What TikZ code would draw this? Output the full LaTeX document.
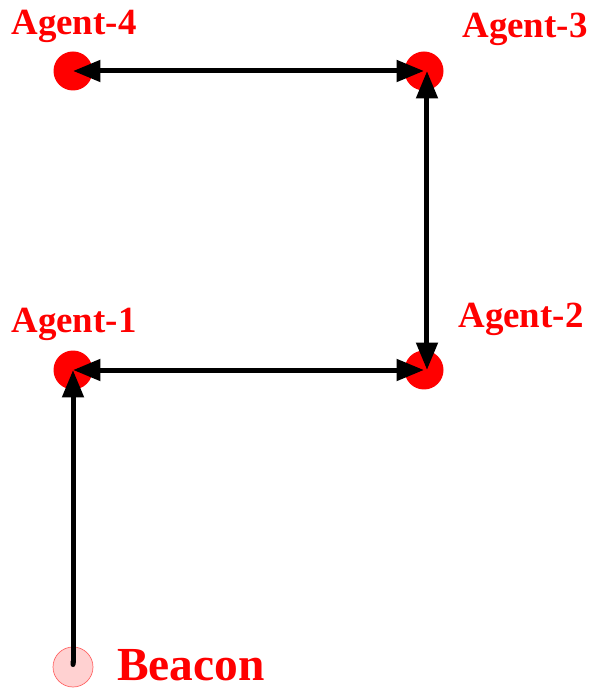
\documentclass[tikz,border=0pt]{standalone}
\usepackage{fontspec}
\setmainfont{Liberation Serif}
\usetikzlibrary{arrows.meta}
\tikzset{
agent/.style={circle, fill=red, minimum size=0.78cm, inner sep=0pt},
beacon/.style={circle, fill=red!18, draw=red!60, line width=0.4pt, minimum size=0.8cm, inner sep=0pt},
lbl/.style={text=red, font=\bfseries\fontsize{21}{21}\selectfont, anchor=base, inner sep=0pt},
link/.style={line width=0.1cm, line cap=round, {Triangle[length=0.55cm,width=0.42cm]}-{Triangle[length=0.55cm,width=0.42cm]}}
}
\begin{document}
\begin{tikzpicture}[x=0.02cm, y=-0.02cm]
\useasboundingbox (0,0) rectangle (594,688);
\node[agent] (a4) at (73,71) {};
\node[agent] (a3) at (424,71) {};
\node[agent] (a1) at (73,370) {};
\node[agent] (a2) at (424,370) {};
\node[beacon] (b) at (73,667) {};
\node[lbl] (l4) at (74,35) {Agent-4};
\node[lbl] (l3) at (525,38) {Agent-3};
\node[lbl] (l1) at (74,333) {Agent-1};
\node[lbl] (l2) at (521,328) {Agent-2};
\node[lbl, font=\bfseries\fontsize{27}{27}\selectfont] (lb) at (191,680) {Beacon};
\draw[link] (a4.center)--(a3.center);
\draw[link] (a1.center)--(a2.center);
\draw[link] ([xshift=1.7pt]a3.center)--([xshift=1.7pt]a2.center);
\draw[link, {Round Cap}-{Triangle[length=0.55cm,width=0.42cm]}] (b.center)--(a1.center);
\end{tikzpicture}
\end{document}
